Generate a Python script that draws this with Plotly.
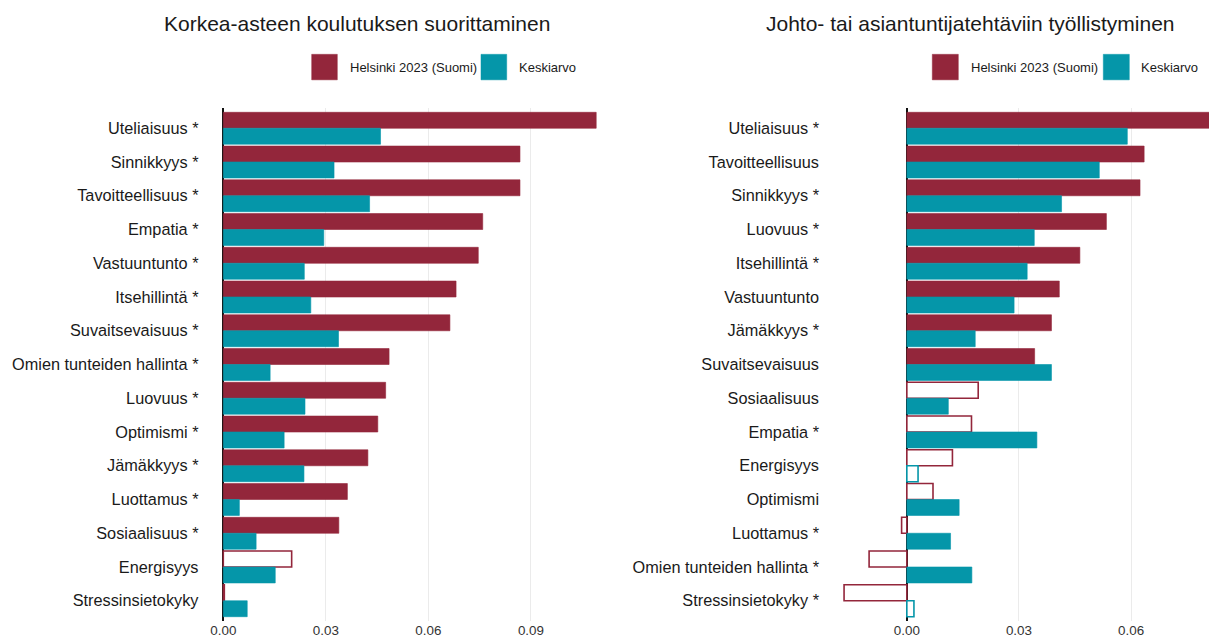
import plotly.graph_objects as go

# ---------------- DATA ----------------
left_title = "Korkea-asteen koulutuksen suorittaminen"
left_cats = ["Uteliaisuus *", "Sinnikkyys *", "Tavoitteellisuus *", "Empatia *", "Vastuuntunto *",
             "Itsehillintä *", "Suvaitsevaisuus *", "Omien tunteiden hallinta *", "Luovuus *",
             "Optimismi *", "Jämäkkyys *", "Luottamus *", "Sosiaalisuus *", "Energisyys",
             "Stressinsietokyky"]
left_helsinki = [0.1091, 0.0868, 0.0868, 0.0759, 0.0746, 0.0681, 0.0663, 0.0485, 0.0475,
                 0.0452, 0.0423, 0.0363, 0.0338, 0.0200, 0.0003]
left_helsinki_sig = [1, 1, 1, 1, 1, 1, 1, 1, 1, 1, 1, 1, 1, 0, 0]
left_mean = [0.0460, 0.0324, 0.0428, 0.0294, 0.0237, 0.0256, 0.0337, 0.0137, 0.0239,
             0.0178, 0.0236, 0.0047, 0.0096, 0.0152, 0.0070]
left_mean_sig = [1] * 15
left_ticks = [0.0, 0.03, 0.06, 0.09]

right_title = "Johto- tai asiantuntijatehtäviin työllistyminen"
right_cats = ["Uteliaisuus *", "Tavoitteellisuus", "Sinnikkyys *", "Luovuus *", "Itsehillintä *",
              "Vastuuntunto", "Jämäkkyys *", "Suvaitsevaisuus", "Sosiaalisuus", "Empatia *",
              "Energisyys", "Optimismi", "Luottamus *", "Omien tunteiden hallinta *",
              "Stressinsietokyky *"]
right_helsinki = [0.0860, 0.0635, 0.0624, 0.0534, 0.0463, 0.0408, 0.0387, 0.0342, 0.0191,
                  0.0173, 0.0122, 0.0070, -0.0014, -0.0101, -0.0168]
right_helsinki_sig = [1, 1, 1, 1, 1, 1, 1, 1, 0, 0, 0, 0, 0, 0, 0]
right_mean = [0.0590, 0.0515, 0.0414, 0.0341, 0.0322, 0.0287, 0.0183, 0.0387, 0.0111,
              0.0348, 0.0030, 0.0140, 0.0117, 0.0174, 0.0019]
right_mean_sig = [1, 1, 1, 1, 1, 1, 1, 1, 1, 1, 0, 1, 1, 1, 0]
right_ticks = [0.0, 0.03, 0.06]

series_names = ["Helsinki 2023 (Suomi)", "Keskiarvo"]
RED = "#93263B"
TEAL = "#0596A9"
FONT = "Liberation Sans, Arial, sans-serif"

# page has an 8px body margin; figure sized so it ends exactly at the window edge
OFF = 8
W, H = 1217 - OFF, 638 - OFF
PLOT_TOP, PLOT_BOTTOM = 107.7, 621.0          # in window pixels
MT = PLOT_TOP - OFF
MB = H - (PLOT_BOTTOM - OFF)


def px_x(p):
    return (p - OFF) / W


def px_y(p):
    return (PLOT_BOTTOM - p) / (PLOT_BOTTOM - PLOT_TOP)


fig = go.Figure()


def add_bars(cats, vals, sig, color, name, xa, ya):
    fills = [color if s else "white" for s in sig]
    fig.add_trace(go.Bar(
        y=cats, x=vals, orientation="h", name=name, showlegend=False,
        marker=dict(color=fills, line=dict(color=color, width=[0.6 if s else 1.6 for s in sig])),
        xaxis=xa, yaxis=ya,
    ))


add_bars(left_cats, left_helsinki, left_helsinki_sig, RED, series_names[0], "x", "y")
add_bars(left_cats, left_mean, left_mean_sig, TEAL, series_names[1], "x", "y")
add_bars(right_cats, right_helsinki, right_helsinki_sig, RED, series_names[0], "x2", "y2")
add_bars(right_cats, right_mean, right_mean_sig, TEAL, series_names[1], "x2", "y2")

xcommon = dict(showgrid=True, gridcolor="#EBEBEB", gridwidth=1.2, zeroline=True,
               zerolinecolor="#111111", zerolinewidth=1.6, tickformat=".2f", ticks="",
               tickfont=dict(family=FONT, size=13.4, color="#333333"), showline=False,
               layer="above traces")
ycommon = dict(type="category", showgrid=False, zeroline=False, ticks="", showline=False,
               tickfont=dict(family=FONT, size=16.3, color="#1A1A1A"), ticklabelstandoff=5)

fig.update_layout(
    width=W, height=H,
    margin=dict(l=0, r=0, t=MT, b=MB, pad=0),
    paper_bgcolor="white", plot_bgcolor="white",
    barmode="group", bargap=0.055, bargroupgap=0.0,
    showlegend=False,
    xaxis=dict(domain=[px_x(204.5), px_x(615)], range=[-0.0055, 0.1146], tickvals=left_ticks,
               anchor="y", **xcommon),
    yaxis=dict(domain=[0, 1], range=[14.6, -0.6], anchor="x", categoryorder="array",
               categoryarray=left_cats, **ycommon),
    xaxis2=dict(domain=[px_x(825), 1.0], range=[-0.0219, 0.0830], tickvals=right_ticks,
                anchor="y2", **xcommon),
    yaxis2=dict(domain=[0, 1], range=[14.6, -0.6], anchor="x2", categoryorder="array",
                categoryarray=right_cats, **ycommon),
)

# Titles
for title, cx in [(left_title, 357), (right_title, 970)]:
    fig.add_annotation(text=title, x=px_x(cx), y=px_y(23), xref="paper", yref="paper",
                       xanchor="center", yanchor="middle", showarrow=False,
                       font=dict(family=FONT, size=21, color="#1A1A1A"))

# Legends (key squares + labels)
legend_layout = [
    [(311.7, 337.3, 348.3), (481.0, 506.7, 517.3)],
    [(932.3, 958.3, 969.3), (1103.3, 1129.3, 1139.3)],
]
for items in legend_layout:
    for (x0, x1, tx), name, col in zip(items, series_names, [RED, TEAL]):
        fig.add_shape(type="rect", xref="paper", yref="paper",
                      x0=px_x(x0), x1=px_x(x1), y0=px_y(79.5), y1=px_y(54),
                      fillcolor=col, line=dict(color=col, width=0.5))
        fig.add_annotation(text=name, x=px_x(tx), y=px_y(67), xref="paper", yref="paper",
                           xanchor="left", yanchor="middle", showarrow=False,
                           font=dict(family=FONT, size=13, color="#1A1A1A"))

fig.write_html("out.html")
